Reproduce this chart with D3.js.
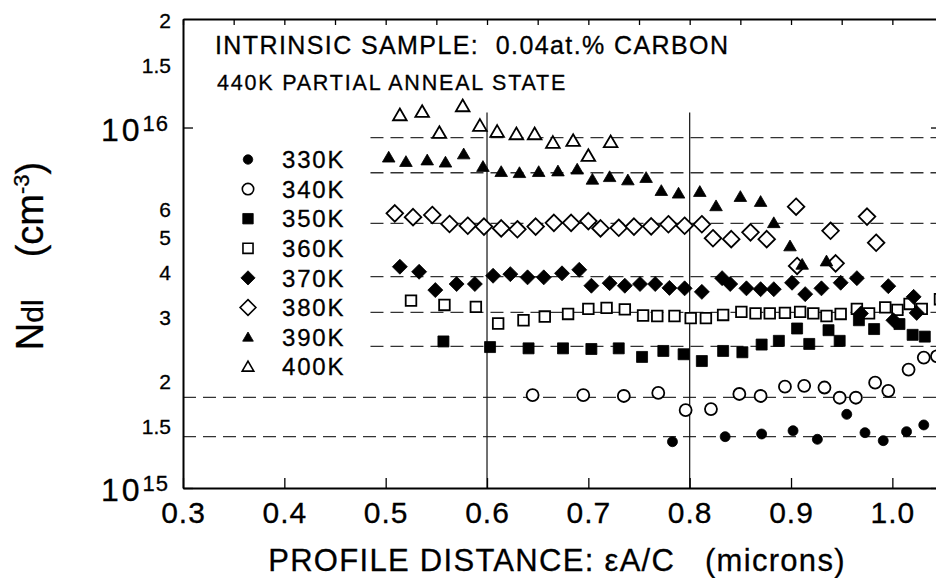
<!DOCTYPE html>
<html>
<head>
<meta charset="utf-8">
<script src="https://cdn.jsdelivr.net/npm/d3@7"></script>
<style>
  body { margin: 0; background: #fff; }
  svg { display: block; font-family: "Liberation Sans", Arial, Helvetica, sans-serif; }
  text { white-space: pre; stroke: #000; stroke-width: 0.3px; }
</style>
</head>
<body>
<svg id="chart" width="936" height="578"></svg>
<script>
// profile distance (microns), N_dl in units of 1e15 cm^-3
const s330 = [[0.783,1.344],[0.835,1.388],[0.871,1.412],[0.902,1.442],[0.926,1.365],[0.955,1.601],[0.973,1.424],[0.991,1.353],[1.014,1.433],[1.031,1.496]];
const s340 = [[0.645,1.81],[0.695,1.81],[0.735,1.80],[0.769,1.835],[0.796,1.645],[0.821,1.656],[0.849,1.823],[0.870,1.80],[0.894,1.91],[0.913,1.92],[0.933,1.90],[0.948,1.78],[0.964,1.78],[0.983,1.96],[0.996,1.86],[1.016,2.13],[1.031,2.30],[1.044,2.32]];
const s350 = [[0.557,2.55],[0.603,2.46],[0.641,2.44],[0.675,2.44],[0.703,2.43],[0.730,2.44],[0.753,2.31],[0.774,2.40],[0.794,2.35],[0.812,2.25],[0.833,2.40],[0.852,2.38],[0.871,2.50],[0.888,2.56],[0.906,2.77],[0.918,2.51],[0.937,2.74],[0.948,2.56],[0.967,2.92],[0.982,2.76],[1.007,2.85],[1.020,2.66],[1.032,2.63]];
const s360 = [[0.525,3.31],[0.558,3.22],[0.589,3.18],[0.611,2.86],[0.636,2.92],[0.657,2.99],[0.680,3.04],[0.700,3.14],[0.718,3.16],[0.736,3.13],[0.754,3.01],[0.768,3.00],[0.785,3.00],[0.801,2.96],[0.816,2.96],[0.833,3.02],[0.851,3.08],[0.865,3.05],[0.879,3.05],[0.894,3.06],[0.909,3.08],[0.922,3.05],[0.935,3.00],[0.949,3.04],[0.965,3.14],[0.977,3.05],[0.993,3.17],[1.005,3.12],[1.017,3.24],[1.029,3.14],[1.047,3.34]];
const s370 = [[0.514,4.11],[0.533,3.98],[0.549,3.54],[0.570,3.68],[0.588,3.68],[0.606,3.88],[0.623,3.92],[0.640,3.84],[0.656,3.84],[0.674,3.94],[0.691,4.03],[0.703,3.64],[0.721,3.70],[0.736,3.64],[0.751,3.68],[0.766,3.68],[0.780,3.59],[0.795,3.58],[0.812,3.50],[0.832,3.82],[0.840,3.68],[0.856,3.58],[0.870,3.56],[0.883,3.56],[0.901,3.71],[0.914,3.45],[0.930,3.58],[0.949,3.71],[0.965,3.82],[0.969,3.05],[0.996,3.63],[1.001,2.92],[1.021,3.39],[1.024,3.06]];
const s380 = [[0.509,5.78],[0.527,5.64],[0.546,5.72],[0.563,5.40],[0.581,5.34],[0.597,5.31],[0.614,5.25],[0.630,5.22],[0.648,5.31],[0.666,5.44],[0.683,5.44],[0.700,5.50],[0.712,5.25],[0.730,5.27],[0.745,5.31],[0.762,5.32],[0.779,5.39],[0.795,5.34],[0.812,5.39],[0.823,4.93],[0.841,4.90],[0.860,5.12],[0.876,4.90],[0.905,6.03],[0.906,4.13],[0.939,5.17],[0.944,4.20],[0.975,5.66],[0.984,4.79]];
const s390 = [[0.503,8.27],[0.520,8.04],[0.541,8.12],[0.559,8.01],[0.577,8.44],[0.596,7.79],[0.614,7.54],[0.632,7.49],[0.651,7.54],[0.670,7.57],[0.689,7.66],[0.704,7.18],[0.721,7.30],[0.739,7.15],[0.757,7.26],[0.772,6.68],[0.789,6.57],[0.810,6.64],[0.826,6.06],[0.850,6.43],[0.870,6.23],[0.883,5.44],[0.899,4.69],[0.911,4.17],[0.935,4.26]];
const s400 = [[0.514,10.83],[0.536,11.06],[0.553,9.67],[0.576,11.47],[0.593,10.12],[0.610,9.74],[0.629,9.59],[0.647,9.59],[0.665,9.08],[0.685,9.19],[0.700,8.35],[0.722,9.12]];

const temperatures = ["330K","340K","350K","360K","370K","380K","390K","400K"];
const levelValues = [1.388, 1.785, 2.47, 3.07, 3.86, 5.42, 7.49, 9.37];
const levelStarts = [0.3, 0.3, 0.485, 0.485, 0.485, 0.485, 0.485, 0.485];
const xMajorTicks = [0.3, 0.4, 0.5, 0.6, 0.7, 0.8, 0.9, 1.0];
const xMinorTicks = [0.35, 0.45, 0.55, 0.65, 0.75, 0.85, 0.95, 1.05];
const xMarkerLines = [0.6, 0.8];
const yMinorTicks = [1.1,1.2,1.3,1.4,1.5,1.6,1.7,1.8,1.9,2,3,4,5,6,7,8,9,11,12,13,14,15,16,17,18,19];
const yMajorTicks = [1, 10];
const yLabelValues = [20, 15, 6, 5, 4, 3, 2, 1.5];
const yLabelTexts = ["2", "1.5", "6", "5", "4", "3", "2", "1.5"];
const yDecades = [10, 1];
const yDecadeExp = ["16", "15"];

const svg = d3.select("#chart");
svg.append("rect").attr("width", 936).attr("height", 578).attr("fill", "#fff");

const x = d3.scaleLinear().domain([0.3, 1.048]).range([183, 941]);
const y = d3.scaleLog().domain([1, 20]).range([488, 19]);

// custom marker shapes, "size" used as half-extent
const shapes = {
  circle: { draw(ctx, r) { ctx.moveTo(r, 0); ctx.arc(0, 0, r, 0, 2 * Math.PI); } },
  square: { draw(ctx, r) { ctx.rect(-r, -r, 2 * r, 2 * r); } },
  diamond: { draw(ctx, r) { ctx.moveTo(0, -r); ctx.lineTo(r, 0); ctx.lineTo(0, r); ctx.lineTo(-r, 0); ctx.closePath(); } },
  triangle: { draw(ctx, r) { ctx.moveTo(0, -r); ctx.lineTo(r * 1.05, r * 0.8); ctx.lineTo(-r * 1.05, r * 0.8); ctx.closePath(); } }
};

const series = [
  {data: s330, shape: "circle", filled: true, r: 5},
  {data: s340, shape: "circle", filled: false, r: 6},
  {data: s350, shape: "square", filled: true, r: 5.5},
  {data: s360, shape: "square", filled: false, r: 5.3},
  {data: s370, shape: "diamond", filled: true, r: 7.5},
  {data: s380, shape: "diamond", filled: false, r: 8.3},
  {data: s390, shape: "triangle", filled: true, r: 6},
  {data: s400, shape: "triangle", filled: false, r: 6.5}
].map((s, i) => Object.assign(s, {label: temperatures[i]}));

const symbolPath = s => d3.symbol().type(shapes[s.shape]).size(s.r)();

// dashed reference levels
svg.append("g")
  .selectAll("line")
  .data(levelValues)
  .enter().append("line")
    .attr("x1", (d, i) => x(levelStarts[i]))
    .attr("x2", x.range()[1])
    .attr("y1", d => y(d))
    .attr("y2", d => y(d))
    .attr("stroke", "#333")
    .attr("stroke-width", 1.3)
    .attr("stroke-dasharray", "13,7");

// vertical marker lines
svg.append("g")
  .selectAll("line")
  .data(xMarkerLines)
  .enter().append("line")
    .attr("x1", d => x(d)).attr("x2", d => x(d))
    .attr("y1", y(11)).attr("y2", y(1))
    .attr("stroke", "#111")
    .attr("stroke-width", 1.2);

// axes (ticks point inward)
const bottomAxis = svg.append("g").attr("transform", "translate(0," + y(1) + ")");
bottomAxis.call(d3.axisBottom(x).tickValues(xMinorTicks).tickSize(-5).tickSizeOuter(0).tickFormat(""));
bottomAxis.call(d3.axisBottom(x).tickValues(xMajorTicks).tickSize(-10).tickSizeOuter(0).tickPadding(14).tickFormat(d3.format(".1f")));
bottomAxis.selectAll("text")
  .attr("font-size", 30).attr("letter-spacing", 1).attr("fill", "#000")
  .attr("font-family", "Liberation Sans, Arial, sans-serif");

const topAxis = svg.append("g").attr("transform", "translate(0," + y(20) + ")");
topAxis.call(d3.axisTop(x).tickValues(xMajorTicks.concat(xMinorTicks)).tickSize(-6).tickSizeOuter(0).tickFormat(""));

const leftAxis = svg.append("g").attr("transform", "translate(" + x(0.3) + ",0)");
leftAxis.call(d3.axisLeft(y).tickValues(yMinorTicks.concat(levelValues)).tickSize(-7).tickSizeOuter(0).tickFormat(""));
leftAxis.call(d3.axisLeft(y).tickValues(yMajorTicks).tickSize(-10).tickSizeOuter(0).tickFormat(""));

const rightAxis = svg.append("g").attr("transform", "translate(" + x.range()[1] + ",0)");
rightAxis.call(d3.axisRight(y).tickValues(yMinorTicks.concat(levelValues)).tickSize(-7).tickSizeOuter(0).tickFormat(""));
rightAxis.call(d3.axisRight(y).tickValues(yMajorTicks).tickSize(-10).tickSizeOuter(0).tickFormat(""));

svg.selectAll(".domain").attr("stroke", "#000").attr("stroke-width", 2);
svg.selectAll(".tick line").attr("stroke", "#000").attr("stroke-width", 1.3);

// y tick labels
svg.append("g")
  .selectAll("text")
  .data(yLabelValues)
  .enter().append("text")
    .attr("x", 171)
    .attr("y", d => y(d))
    .attr("dy", "0.45em")
    .attr("text-anchor", "end")
    .attr("font-size", 21)
    .text((d, i) => yLabelTexts[i]);

const decade = svg.append("g")
  .selectAll("text")
  .data(yDecades)
  .enter().append("text")
    .attr("x", 101)
    .attr("y", d => y(d) + 13)
    .attr("font-size", 32)
    .attr("letter-spacing", 3);
decade.append("tspan").text("10");
decade.append("tspan")
  .attr("dy", -10)
  .attr("font-size", 22)
  .attr("letter-spacing", 1)
  .text((d, i) => yDecadeExp[i]);

// data points
const marks = svg.append("g")
  .selectAll("g")
  .data(series)
  .enter().append("g")
    .attr("fill", s => s.filled ? "#000" : "#fff")
    .attr("stroke", "#000")
    .attr("stroke-width", s => s.filled ? 0.8 : 1.8);

marks.selectAll("path")
  .data(s => s.data.map(p => ({p: p, s: s})))
  .enter().append("path")
    .attr("transform", d => "translate(" + x(d.p[0]) + "," + y(d.p[1]) + ")")
    .attr("d", d => symbolPath(d.s));

// legend
const legend = svg.append("g")
  .selectAll("g")
  .data(series)
  .enter().append("g")
    .attr("transform", (d, i) => "translate(248," + (159.5 + i * 29.6) + ")");

legend.append("path")
  .attr("d", s => d3.symbol().type(shapes[s.shape]).size(s.shape === "triangle" ? s.r * 0.85 : s.r * 0.95)())
  .attr("fill", s => s.filled ? "#000" : "#fff")
  .attr("stroke", "#000")
  .attr("stroke-width", s => s.filled ? 0.8 : 1.6);

legend.append("text")
  .attr("x", 34)
  .attr("dy", "0.36em")
  .attr("font-size", 24)
  .attr("letter-spacing", 1.8)
  .text(s => s.label);

// titles
svg.append("text")
  .attr("x", 215).attr("y", 54)
  .attr("font-size", 25)
  .attr("letter-spacing", 1.4)
  .text("INTRINSIC SAMPLE:  0.04at.% CARBON");

svg.append("text")
  .attr("x", 217).attr("y", 90)
  .attr("font-size", 21.5)
  .attr("letter-spacing", 1.8)
  .text("440K PARTIAL ANNEAL STATE");

svg.append("text")
  .attr("x", 557).attr("y", 571)
  .attr("text-anchor", "middle")
  .attr("font-size", 31)
  .attr("letter-spacing", 1.3)
  .text("PROFILE DISTANCE: εA/C   (microns)");

const yTitle = svg.append("text")
  .attr("transform", "translate(43,256) rotate(-90)")
  .attr("text-anchor", "middle")
  .attr("font-size", 38);
yTitle.append("tspan").text("N");
yTitle.append("tspan").attr("font-size", 30).text("dl");
yTitle.append("tspan").attr("dx", 42).text("(cm");
yTitle.append("tspan").attr("font-size", 22).attr("dy", -14).text("-3");
yTitle.append("tspan").attr("dy", 14).text(")");
</script>
</body>
</html>
